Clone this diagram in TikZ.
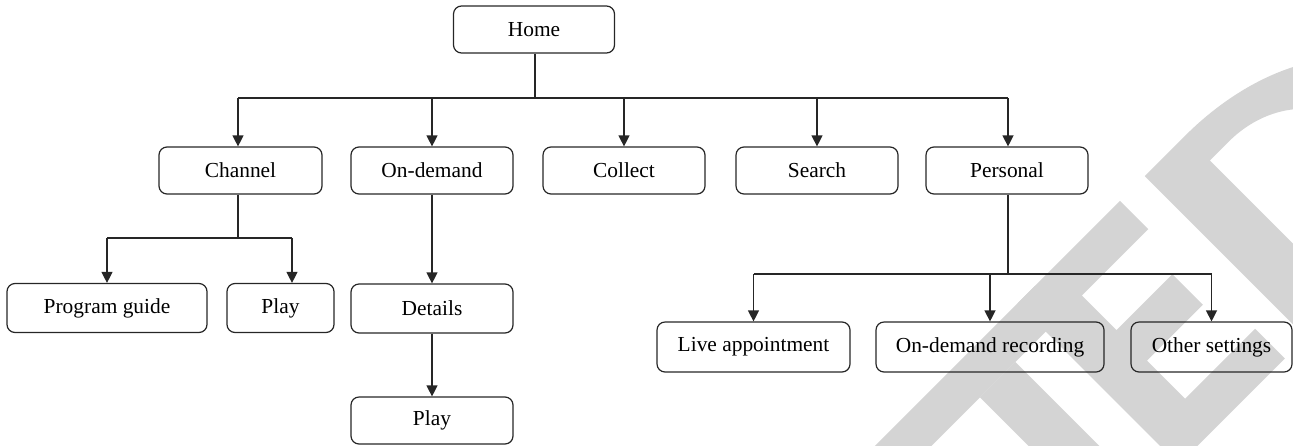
\documentclass[tikz,border=0pt]{standalone}
\usepackage{fontspec}
\setmainfont{Liberation Serif}
\usetikzlibrary{arrows.meta}
\tikzset{
  box/.style={draw=black!85, line width=0.6pt, rounded corners=4pt, minimum height=23.5pt, inner sep=0pt, align=center, font=\fontsize{10.7}{12}\selectfont},
  conn/.style={draw=black!85, line width=0.6pt},
  arr/.style={conn, -{Triangle[length=5.5pt,width=5.5pt]}},
  wm/.style={fill=black!17},
}
\begin{document}
\begin{tikzpicture}[x=0.5pt,y=-0.5pt]
\useasboundingbox (0,0) rectangle (1293,445);
% watermark (partial letters)
\begin{scope}
\clip (0,0) rectangle (1293,445);
\begin{scope}[x={(0.35355pt,0.35355pt)}, y={(-0.35355pt,0.35355pt)}]
\fill[wm] (290,-934) -- (530,-934) -- (530,-974) -- (290,-974) -- cycle;
\fill[wm] (412,-974) -- (462,-974) -- (462,-1162) -- (412,-1162) -- cycle;
\fill[wm] (505,-934) -- (650,-934) -- (650,-974) -- (556,-974) -- (556,-1023) -- (635,-1023) -- (635,-1066) -- (556,-1066) -- (556,-1120) -- (655,-1120) -- (655,-1162) -- (505,-1162) -- cycle;
\fill[wm, even odd rule] (685,-934) -- (742,-934) .. controls (847.5,-934) and (933,-985) .. (933,-1048) .. controls (933,-1111) and (847.5,-1162) .. (742,-1162) -- (685,-1162) -- cycle
  (742,-969) -- (769,-969) .. controls (822.6,-969) and (866,-1004.4) .. (866,-1048) .. controls (866,-1091.6) and (822.6,-1127) .. (769,-1127) -- (742,-1127) -- cycle;
\end{scope}
\end{scope}
% nodes
\node[box, minimum width=80.5pt] (home) at (534,29.5) {Home};
\node[box, minimum width=81.5pt] (channel) at (240.5,170.5) {Channel};
\node[box, minimum width=81pt] (ondemand) at (432,170.5) {On-demand};
\node[box, minimum width=81pt] (collect) at (624,170.5) {Collect};
\node[box, minimum width=81pt] (search) at (817,170.5) {Search};
\node[box, minimum width=81pt] (personal) at (1007,170.5) {Personal};
\node[box, minimum width=100pt, minimum height=24.5pt] (pguide) at (107,308) {Program guide};
\node[box, minimum width=53.5pt, minimum height=24.5pt] (play1) at (280.5,308) {Play};
\node[box, minimum width=81pt, minimum height=24.5pt] (details) at (432,308.5) {Details};
\node[box, minimum width=81pt] (play2) at (432,420.5) {Play};
\node[box, minimum width=96.5pt, minimum height=25pt] (live) at (753.5,347) {Live appointment};
\node[box, minimum width=114pt, minimum height=25pt] (odrec) at (990,347) {On-demand recording};
\node[box, minimum width=80.5pt, minimum height=25pt] (other) at (1211.5,347) {Other settings};
% buses
\coordinate (bus1) at (535,98);
\coordinate (bus2) at (238,238);
\coordinate (bus3) at (1008,274);
% connectors level 1
\draw[conn] ([xshift=0.5pt]home.south) -- (bus1);
\draw[conn] ([xshift=-1.25pt]channel.north |- bus1) -- ([xshift=0.5pt]personal.north |- bus1);
\draw[arr] ([xshift=-1.25pt]channel.north |- bus1) -- ([xshift=-1.25pt]channel.north);
\draw[arr] (ondemand.north |- bus1) -- (ondemand.north);
\draw[arr] (collect.north |- bus1) -- (collect.north);
\draw[arr] (search.north |- bus1) -- (search.north);
\draw[arr] ([xshift=0.5pt]personal.north |- bus1) -- ([xshift=0.5pt]personal.north);
% channel subtree
\draw[conn] ([xshift=-1.25pt]channel.south) -- (bus2);
\draw[conn] (pguide.north |- bus2) -- ([xshift=5.75pt]play1.north |- bus2);
\draw[arr] (pguide.north |- bus2) -- (pguide.north);
\draw[arr] ([xshift=5.75pt]play1.north |- bus2) -- ([xshift=5.75pt]play1.north);
% on-demand subtree
\draw[arr] (ondemand.south) -- (details.north);
\draw[arr] (details.south) -- (play2.north);
% personal subtree
\draw[conn] ([xshift=0.5pt]personal.south) -- (bus3);
\draw[conn] (live.north |- bus3) -- (other.north |- bus3);
\draw[arr] (live.north |- bus3) -- (live.north);
\draw[arr] (odrec.north |- bus3) -- (odrec.north);
\draw[arr] (other.north |- bus3) -- (other.north);
\end{tikzpicture}
\end{document}
